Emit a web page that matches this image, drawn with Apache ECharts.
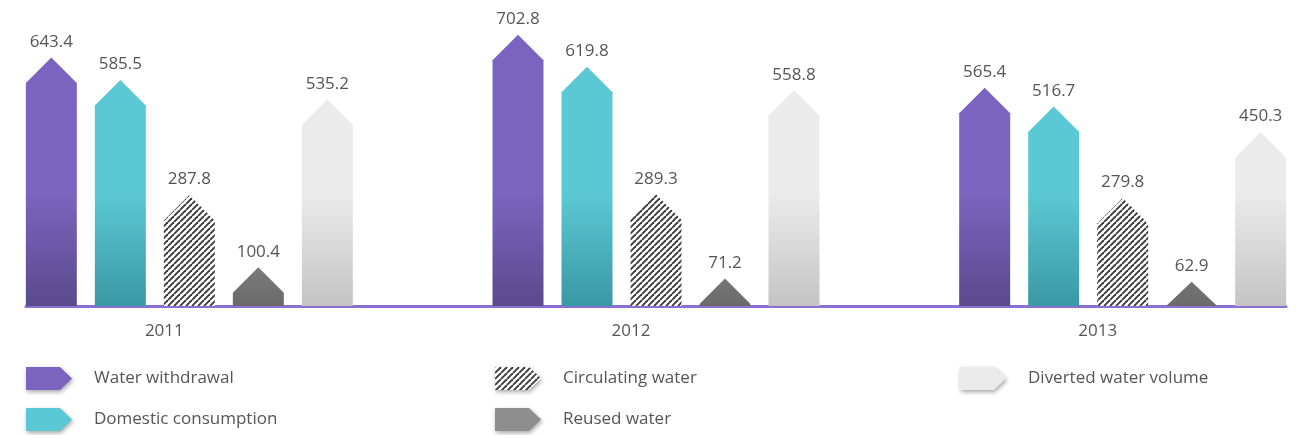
<!DOCTYPE html>
<html>
<head>
<meta charset="utf-8">
<title>Water use, 2011–2013</title>
<script src="https://cdn.jsdelivr.net/npm/echarts@6/dist/echarts.min.js"></script>
<style>
  html, body { margin: 0; padding: 0; background: #ffffff; }
  #chart { width: 1300px; height: 435px; }
</style>
</head>
<body>
<div id="chart"></div>
<script>
// Years on the category axis
const years = ['2011', '2012', '2013'];

// Series values, one per year
const waterWithdrawal     = [643.4, 702.8, 565.4];
const domesticConsumption = [585.5, 619.8, 516.7];
const circulatingWater    = [287.8, 289.3, 279.8];
const reusedWater         = [100.4, 71.2, 62.9];
const divertedWater       = [535.2, 558.8, 450.3];

// Series names as shown in the legend
const seriesNames = [
  'Water withdrawal',
  'Domestic consumption',
  'Circulating water',
  'Reused water',
  'Diverted water volume'
];

const FONT = '"Open Sans", "Noto Sans", sans-serif';
const BAR_W = 51;      // width of every arrow bar
const STEP = 69;       // distance between neighbouring bars inside a year group

// Diagonal hatch tile used by the "Circulating water" bars
function hatchTile() {
  const n = 6;
  const c = document.createElement('canvas');
  c.width = n; c.height = n;
  const g = c.getContext('2d');
  g.fillStyle = '#ffffff';
  g.fillRect(0, 0, n, n);
  g.strokeStyle = '#3a3a3a';
  g.lineWidth = 1.9;
  for (let k = -1; k <= 1; k++) {
    g.beginPath();
    g.moveTo(k * n, n);
    g.lineTo(k * n + n, 0);
    g.stroke();
  }
  return c;
}
const hatch = { image: hatchTile(), repeat: 'repeat' };

// Per-series look: flat colour for the legend, gradient stops for the bars
const looks = [
  { flat: '#7b64bf', top: '#7b64bf', bottom: '#5a4a8c' },
  { flat: '#5bc9d5', top: '#5bc9d5', bottom: '#3a98a3' },
  { flat: hatch,     pattern: true },
  { flat: '#8e8e8e', top: '#9a9a9a', bottom: '#6a6a6a' },
  { flat: '#ebebeb', top: '#ebebeb', bottom: '#c4c4c4' }
];

const allValues = [waterWithdrawal, domesticConsumption, circulatingWater, reusedWater, divertedWater];

function makeRenderer(idx) {
  const offset = (idx - 2) * STEP;
  const look = looks[idx];
  return function (params, api) {
    const cat = api.value(0);
    const val = api.value(1);
    const top = api.coord([cat, val]);
    const base = api.coord([cat, 0]);
    const cx = top[0] + offset;
    const half = BAR_W / 2;
    const apex = top[1];
    const shoulder = Math.min(apex + half, base[1]);
    const x0 = cx - half, x1 = cx + half;

    let fill;
    if (look.pattern) {
      fill = look.flat;
    } else {
      // vertical shading anchored to the baseline so all bars darken alike
      fill = new echarts.graphic.LinearGradient(0, base[1] - 112, 0, base[1], [
        { offset: 0, color: look.top },
        { offset: 1, color: look.bottom }
      ], true);
    }

    return {
      type: 'group',
      children: [
        {
          type: 'polygon',
          shape: {
            points: [[x0, base[1]], [x0, shoulder], [cx, apex], [x1, shoulder], [x1, base[1]]]
          },
          style: { fill: fill }
        },
        {
          type: 'text',
          style: {
            text: val.toFixed(1),
            x: cx,
            y: apex - 7,
            align: 'center',
            verticalAlign: 'bottom',
            fill: '#555555',
            font: '17px ' + FONT
          }
        }
      ]
    };
  };
}

const series = allValues.map(function (vals, idx) {
  return {
    name: seriesNames[idx],
    type: 'custom',
    xAxisIndex: 0,
    yAxisIndex: 0,
    renderItem: makeRenderer(idx),
    encode: { x: 0, y: 1 },
    itemStyle: { color: looks[idx].flat },
    data: vals.map(function (v, i) { return [i, v]; })
  };
});

const arrowIcon = 'path://M0,0 L34,0 L46,11.5 L34,23 L0,23 Z';

function legendBlock(left, names) {
  return {
    orient: 'vertical',
    left: left,
    top: 367,
    padding: 0,
    height: 68,
    itemWidth: 46,
    itemHeight: 23,
    itemGap: 18,
    selectedMode: false,
    icon: arrowIcon,
    textStyle: {
      fontFamily: FONT,
      fontSize: 17,
      color: '#555555',
      padding: [4, 0, 0, 17]
    },
    data: names.map(function (n) {
      const idx = seriesNames.indexOf(n);
      return {
        name: n,
        itemStyle: {
          color: looks[idx].flat,
          borderWidth: 0,
          shadowBlur: 4,
          shadowOffsetX: 1,
          shadowOffsetY: 2,
          shadowColor: 'rgba(0,0,0,0.35)'
        }
      };
    })
  };
}

const option = {
  animation: false,
  backgroundColor: '#ffffff',
  grid: [
    // bars: the year bands are wider than the visible rule, so the grid overhangs the canvas
    { left: -44, width: 1400, top: 28, bottom: 129, containLabel: false, outerBoundsMode: 'none' },
    // baseline rule under the bars
    { left: 26, right: 14, top: 28, bottom: 129, containLabel: false, outerBoundsMode: 'none' }
  ],
  xAxis: [
    {
      type: 'category',
      gridIndex: 0,
      data: years,
      axisLine: { show: false },
      axisTick: { show: false },
      axisLabel: {
        margin: 17,
        fontFamily: FONT,
        fontSize: 17,
        color: '#555555',
        padding: [0, 50, 0, 0]
      }
    },
    {
      type: 'value',
      gridIndex: 1,
      min: 0,
      max: 1,
      axisLine: { show: true, onZero: false, lineStyle: { color: '#8a70d2', width: 3 } },
      axisTick: { show: false },
      axisLabel: { show: false },
      splitLine: { show: false }
    }
  ],
  yAxis: [
    { type: 'value', gridIndex: 0, min: 0, max: 720, show: false },
    { type: 'value', gridIndex: 1, min: 0, max: 1, show: false }
  ],
  legend: [
    legendBlock(26, ['Water withdrawal', 'Domestic consumption']),
    legendBlock(495, ['Circulating water', 'Reused water']),
    legendBlock(960, ['Diverted water volume'])
  ],
  series: series
};

const chart = echarts.init(document.getElementById('chart'), null, { renderer: 'canvas' });
chart.setOption(option);
</script>
</body>
</html>
